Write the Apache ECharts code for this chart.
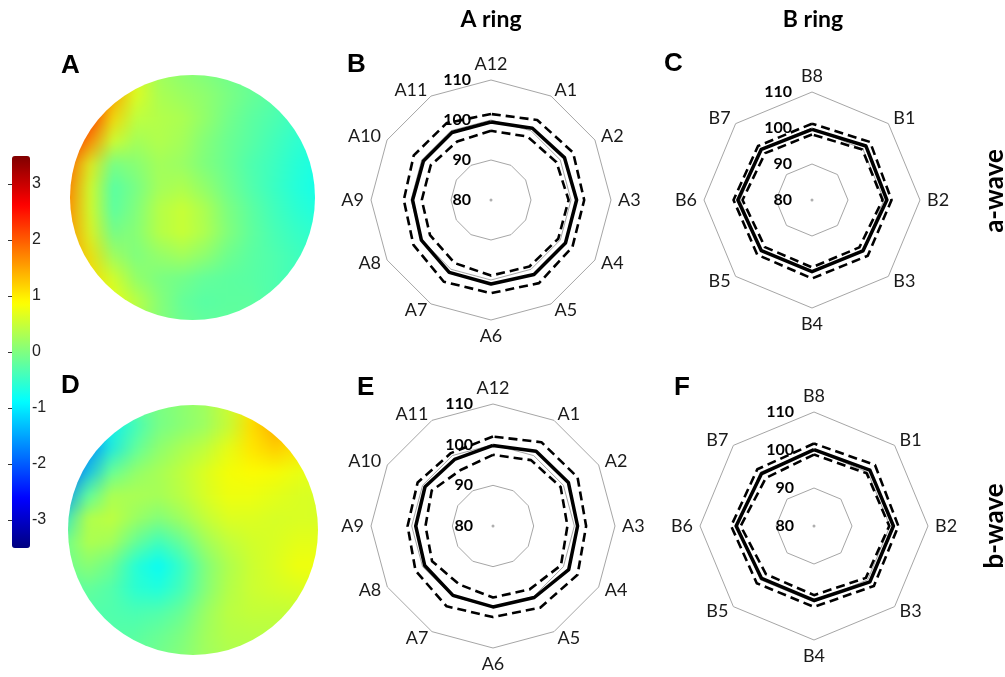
<!DOCTYPE html>
<html>
<head>
<meta charset="utf-8">
<script src="https://cdn.jsdelivr.net/npm/echarts@6/dist/echarts.min.js"></script>
<style>
html, body { margin: 0; padding: 0; background: #fff; }
#main { position: absolute; left: 0; top: 0; width: 1005px; height: 677px; }
.disk { position: absolute; overflow: hidden; clip-path: circle(50% at 50% 50%); }
.soft { position: absolute; filter: blur(3px); }
.field { position: absolute; left: 0; top: 0; width: 12px; height: 12px; transform-origin: 0 0; }
</style>
</head>
<body>
<div id="main"></div>
<div class="disk" style="left:70px;top:75px;width:245px;height:245px;">
  <div class="soft" style="left:-15px;top:-15px;width:275px;height:275px;">
    <div class="field" id="fieldA" style="transform:scale(22.9167);"></div>
  </div>
</div>
<div class="disk" style="left:68px;top:405px;width:250px;height:250px;">
  <div class="soft" style="left:-15px;top:-15px;width:280px;height:280px;">
    <div class="field" id="fieldD" style="transform:scale(23.3333);"></div>
  </div>
</div>
<script>
// Segment labels, listed clockwise from the top
const ringALabels = ['A12', 'A1', 'A2', 'A3', 'A4', 'A5', 'A6', 'A7', 'A8', 'A9', 'A10', 'A11'];
const ringBLabels = ['B8', 'B1', 'B2', 'B3', 'B4', 'B5', 'B6', 'B7'];
const radialTicks = [80, 90, 100, 110];
const colorbarTicks = [-3, -2, -1, 0, 1, 2, 3];

// a-wave, A ring (% of control): mean and band limits
const aWaveRingAMean  = [99.5, 100.7, 101.2, 101.4, 101.5, 101.5, 101.0, 100.9, 100.1, 99.6, 99.5, 99.5];
const aWaveRingAUpper = [101.5, 103.1, 103.7, 103.3, 103.5, 104.0, 103.3, 103.6, 102.4, 101.8, 102.3, 102.2];
const aWaveRingALower = [97.3, 98.3, 98.9, 99.4, 99.4, 99.2, 98.9, 98.2, 97.6, 97.3, 97.4, 96.9];

// a-wave, B ring
const aWaveRingBMean  = [99.6, 101.2, 100.8, 100.0, 99.9, 99.9, 100.6, 99.9];
const aWaveRingBUpper = [101.2, 102.8, 102.1, 101.9, 101.8, 101.5, 101.8, 101.2];
const aWaveRingBLower = [98.2, 99.8, 99.6, 98.6, 98.7, 98.5, 99.3, 98.4];

// b-wave, A ring
const bWaveRingAMean  = [99.8, 101.2, 101.4, 100.8, 101.5, 100.3, 99.9, 99.7, 99.4, 99.0, 99.3, 98.9];
const bWaveRingAUpper = [102.0, 103.8, 104.0, 102.9, 104.0, 103.2, 102.4, 102.8, 102.0, 101.0, 101.4, 100.7];
const bWaveRingALower = [97.5, 98.7, 99.2, 98.3, 99.3, 98.0, 97.6, 96.6, 97.3, 96.6, 97.4, 95.9];

// b-wave, B ring
const bWaveRingBMean  = [100.1, 100.8, 100.9, 100.8, 99.6, 99.5, 100.5, 99.5];
const bWaveRingBUpper = [101.7, 102.7, 102.2, 102.3, 101.3, 101.3, 101.8, 101.1];
const bWaveRingBLower = [98.8, 99.6, 99.8, 99.3, 98.2, 97.9, 99.3, 97.9];

// Topographic maps sampled on a 12 x 12 grid (rows top to bottom, columns left to right)
const fieldAValues = [
  [1.6, 1.6, 1.4, 0.7, 0.2, 0.1, 0.0, -0.1, -0.2, -0.3, -0.4, -0.5],
  [2.2, 2.3, 1.7, 0.8, 0.3, 0.15, 0.1, 0.0, -0.1, -0.2, -0.4, -0.5],
  [2.5, 2.5, 1.3, 0.5, 0.35, 0.35, 0.2, 0.0, -0.2, -0.3, -0.4, -0.5],
  [2.5, 2.2, 0.9, 0.3, 0.4, 0.35, 0.1, -0.1, -0.2, -0.35, -0.5, -0.6],
  [2.2, 1.1, 0.0, 0.1, 0.3, 0.2, 0.0, -0.1, -0.3, -0.4, -0.55, -0.7],
  [2.0, 0.8, -0.35, -0.1, 0.2, 0.3, 0.1, -0.1, -0.3, -0.45, -0.6, -0.75],
  [1.9, 0.8, -0.4, -0.1, 0.3, 0.5, 0.35, 0.0, -0.2, -0.4, -0.55, -0.7],
  [1.8, 0.8, -0.2, 0.0, 0.4, 0.6, 0.45, 0.1, -0.15, -0.35, -0.5, -0.6],
  [1.7, 1.1, 0.1, -0.1, 0.2, 0.4, 0.3, 0.0, -0.2, -0.3, -0.4, -0.5],
  [1.5, 1.2, 0.6, 0.0, -0.1, 0.0, -0.1, -0.2, -0.25, -0.3, -0.4, -0.5],
  [1.2, 1.1, 0.8, 0.5, 0.1, -0.2, -0.3, -0.25, -0.2, -0.3, -0.4, -0.5],
  [1.0, 0.9, 0.7, 0.4, 0.1, -0.1, -0.2, -0.2, -0.2, -0.3, -0.4, -0.5]
];
const fieldDValues = [
  [-0.8, -0.7, -0.4, -0.1, 0.0, 0.1, 0.2, 0.5, 0.9, 1.2, 1.3, 1.3],
  [-1.5, -1.2, -0.8, -0.5, -0.1, 0.0, 0.1, 0.3, 1.0, 1.5, 1.4, 1.3],
  [-2.2, -1.8, -1.1, -0.4, 0.0, 0.2, 0.3, 0.6, 1.0, 1.4, 1.2, 1.0],
  [-2.3, -1.6, -0.4, 0.0, 0.2, 0.4, 0.6, 0.8, 0.9, 0.9, 0.8, 0.7],
  [-2.0, -0.6, 0.2, 0.3, 0.3, 0.4, 0.6, 0.8, 0.8, 0.75, 0.65, 0.6],
  [-1.2, 0.3, 0.5, 0.3, 0.1, 0.3, 0.5, 0.7, 0.7, 0.6, 0.6, 0.6],
  [-0.3, 0.4, 0.45, 0.1, -0.3, -0.1, 0.3, 0.5, 0.6, 0.6, 0.65, 0.65],
  [-0.1, 0.2, 0.1, -0.5, -0.9, -0.6, 0.0, 0.3, 0.5, 0.6, 0.8, 0.8],
  [-0.3, -0.1, -0.2, -0.6, -0.85, -0.6, -0.1, 0.3, 0.5, 0.6, 0.7, 0.7],
  [-0.3, -0.3, -0.3, -0.4, -0.4, -0.3, 0.1, 0.4, 0.5, 0.5, 0.5, 0.5],
  [-0.3, -0.3, -0.3, -0.3, -0.2, -0.1, 0.2, 0.4, 0.4, 0.4, 0.4, 0.4],
  [-0.3, -0.3, -0.3, -0.2, -0.1, 0.0, 0.2, 0.3, 0.35, 0.35, 0.35, 0.35]
];
const fieldRange = [-3.5, 3.5];
const jetColors = ['#000080', '#0000ff', '#0080ff', '#00ffff', '#80ff80', '#ffff00', '#ff8000', '#ff0000', '#800000'];

const labelFont = 'Lato, "Open Sans", sans-serif';

// ECharts lays radar indicators counter-clockwise; reorder so segments run clockwise
function clockwise(arr) { return [arr[0]].concat(arr.slice(1).reverse()); }

const panels = [
  { labels: ringALabels, mean: aWaveRingAMean, upper: aWaveRingAUpper, lower: aWaveRingALower, center: [491, 200], radius: 120 },
  { labels: ringBLabels, mean: aWaveRingBMean, upper: aWaveRingBUpper, lower: aWaveRingBLower, center: [812, 200], radius: 108 },
  { labels: ringALabels, mean: bWaveRingAMean, upper: bWaveRingAUpper, lower: bWaveRingALower, center: [493, 526], radius: 122 },
  { labels: ringBLabels, mean: bWaveRingBMean, upper: bWaveRingBUpper, lower: bWaveRingBLower, center: [814, 526], radius: 114 }
];

const rMin = radialTicks[0], rMax = radialTicks[radialTicks.length - 1];
const dashed = { color: '#000', width: 2.6, type: [9, 5] };

const radar = panels.map(p => ({
  center: p.center, radius: p.radius, startAngle: 90, shape: 'polygon',
  splitNumber: radialTicks.length - 1,
  indicator: clockwise(p.labels).map(n => ({ name: n, min: rMin, max: rMax })),
  axisName: { color: '#1a1a1a', fontSize: 18, fontFamily: labelFont },
  nameGap: 7,
  axisLine: { show: false }, axisTick: { show: false }, axisLabel: { show: false },
  splitLine: { lineStyle: { color: '#a6a6a6', width: 1 } },
  splitArea: { show: false }
}));

const polar = panels.map(p => ({ center: p.center, radius: p.radius }));
const angleAxis = panels.map((p, i) => ({ polarIndex: i, type: 'value', min: 0, max: 360, startAngle: 90, show: false }));
const radiusAxis = panels.map((p, i) => ({
  polarIndex: i, type: 'value', min: rMin, max: rMax, interval: radialTicks[1] - radialTicks[0], z: 10,
  axisLine: { show: false }, axisTick: { show: false }, splitLine: { show: false },
  axisLabel: { fontWeight: 'bold', fontSize: 16, color: '#000', fontFamily: labelFont, margin: 20 }
}));

const series = [];
panels.forEach((p, i) => {
  series.push({
    type: 'radar', radarIndex: i, symbol: 'none', silent: true, z: 3,
    data: [
      { value: clockwise(p.upper), lineStyle: dashed },
      { value: clockwise(p.lower), lineStyle: dashed },
      { value: clockwise(p.mean), lineStyle: { color: '#000', width: 3.5, type: 'solid' } }
    ]
  });
  series.push({
    type: 'scatter', coordinateSystem: 'polar', polarIndex: i, silent: true,
    data: [[rMin, 0]], symbolSize: 3, itemStyle: { color: '#9a9a9a' }
  });
});

function panelLetter(t, x, y) {
  return { type: 'text', x: x, y: y, silent: true,
    style: { text: t, font: 'bold 26px "Liberation Sans", Arial, sans-serif', fill: '#000',
      align: 'left', verticalAlign: 'middle', textAlign: 'left', textVerticalAlign: 'middle' } };
}
function heading(t, x, y, rot, size) {
  return { type: 'text', x: x, y: y, rotation: rot || 0, silent: true,
    style: { text: t, font: 'bold ' + (size || 23) + 'px ' + labelFont, fill: '#000',
      align: 'center', verticalAlign: 'middle', textAlign: 'center', textVerticalAlign: 'middle' } };
}

const main = echarts.init(document.getElementById('main'), null, { renderer: 'canvas' });
main.setOption({
  animation: false,
  backgroundColor: '#fff',
  radar: radar,
  polar: polar,
  angleAxis: angleAxis,
  radiusAxis: radiusAxis,
  grid: [{ left: 12, top: 156, width: 18, height: 392 }],
  xAxis: [{ gridIndex: 0, type: 'value', show: false }],
  yAxis: [{
    gridIndex: 0, type: 'value', min: fieldRange[0], max: fieldRange[1], position: 'right',
    axisLine: { show: false }, splitLine: { show: false },
    axisTick: { show: true, inside: true, length: 4, customValues: colorbarTicks, lineStyle: { color: '#333' } },
    axisLabel: { customValues: colorbarTicks, margin: 2, fontSize: 16, color: '#222', fontFamily: '"Liberation Sans", Arial, sans-serif' }
  }],
  visualMap: [{
    type: 'continuous', seriesIndex: [], min: fieldRange[0], max: fieldRange[1],
    left: 12, top: 156, itemWidth: 18, itemHeight: 392, padding: 0,
    calculable: false, hoverLink: false, inRange: { color: jetColors }
  }],
  graphic: [
    panelLetter('A', 61, 66), panelLetter('B', 347, 65), panelLetter('C', 664, 64),
    panelLetter('D', 61, 386), panelLetter('E', 357, 388), panelLetter('F', 674, 388),
    heading('A ring', 491, 20), heading('B ring', 813, 20),
    heading('a-wave', 995, 191, Math.PI / 2, 26), heading('b-wave', 995, 526, Math.PI / 2, 26)
  ],
  series: series
});

// Topographic map panels: one sample per pixel, smoothed when the canvas is scaled up
function drawField(id, values) {
  const n = values.length;
  const cells = [];
  values.forEach((row, r) => row.forEach((v, c) => cells.push([c, r, v])));
  const idx = Array.from({ length: n }, (_, k) => k);
  const chart = echarts.init(document.getElementById(id), null, { width: n, height: n, devicePixelRatio: 1 });
  chart.setOption({
    animation: false,
    grid: { left: 0, right: 0, top: 0, bottom: 0 },
    xAxis: { type: 'category', data: idx, show: false },
    yAxis: { type: 'category', data: idx, show: false, inverse: true },
    visualMap: { show: false, min: fieldRange[0], max: fieldRange[1], inRange: { color: jetColors } },
    series: [{ type: 'heatmap', data: cells, silent: true, itemStyle: { borderWidth: 0 } }]
  });
}
drawField('fieldA', fieldAValues);
drawField('fieldD', fieldDValues);
</script>
</body>
</html>
